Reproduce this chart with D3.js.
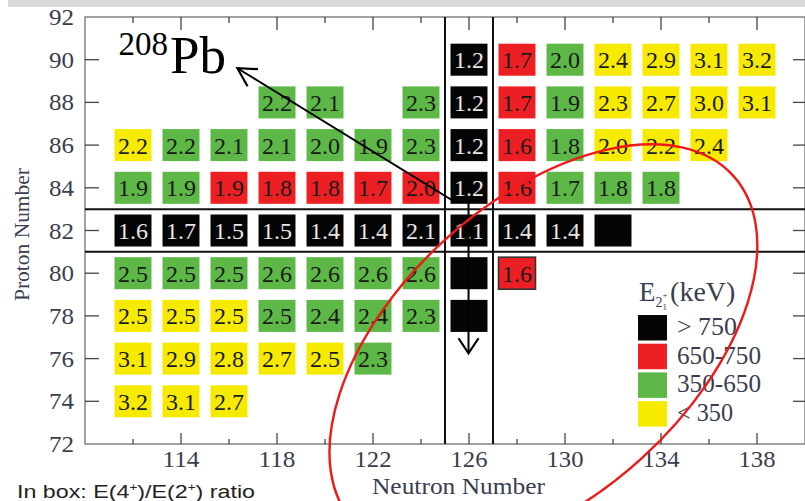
<!DOCTYPE html>
<html><head><meta charset="utf-8">
<script src="https://cdn.jsdelivr.net/npm/d3@7"></script>
<style>body{margin:0;background:#fff}svg{display:block}</style>
</head><body>
<svg id="c" width="805" height="501"></svg>
<script>
// ---------- data ----------
const xDomain = [110, 140];
const yDomain = [72, 92];
const xMajorTicks = [114, 118, 122, 126, 130, 134, 138];
const xMinorTicks = [112, 116, 120, 124, 128, 132, 136];
const yTicks = [72, 74, 76, 78, 80, 82, 84, 86, 88, 90, 92];
const magicN = [125, 127];
const magicZ = [81, 83];

// each row: [neutron number, E(4+)/E(2+) ratio (null = no value), E(2+) band]
const row90 = [[126,1.2,"k"],[128,1.7,"r"],[130,2.0,"g"],[132,2.4,"y"],[134,2.9,"y"],[136,3.1,"y"],[138,3.2,"y"]];
const row88 = [[118,2.2,"g"],[120,2.1,"g"],[124,2.3,"g"],[126,1.2,"k"],[128,1.7,"r"],[130,1.9,"g"],[132,2.3,"y"],[134,2.7,"y"],[136,3.0,"y"],[138,3.1,"y"]];
const row86 = [[112,2.2,"y"],[114,2.2,"g"],[116,2.1,"g"],[118,2.1,"g"],[120,2.0,"g"],[122,1.9,"g"],[124,2.3,"g"],[126,1.2,"k"],[128,1.6,"r"],[130,1.8,"g"],[132,2.0,"y"],[134,2.2,"y"],[136,2.4,"y"]];
const row84 = [[112,1.9,"g"],[114,1.9,"g"],[116,1.9,"r"],[118,1.8,"r"],[120,1.8,"r"],[122,1.7,"r"],[124,2.0,"r"],[126,1.2,"k"],[128,1.6,"r"],[130,1.7,"g"],[132,1.8,"g"],[134,1.8,"g"]];
const row82 = [[112,1.6,"k"],[114,1.7,"k"],[116,1.5,"k"],[118,1.5,"k"],[120,1.4,"k"],[122,1.4,"k"],[124,2.1,"k"],[126,1.1,"k"],[128,1.4,"k"],[130,1.4,"k"],[132,null,"k"]];
const row80 = [[112,2.5,"g"],[114,2.5,"g"],[116,2.5,"g"],[118,2.6,"g"],[120,2.6,"g"],[122,2.6,"g"],[124,2.6,"g"],[126,null,"k"],[128,1.6,"r"]];
const row78 = [[112,2.5,"y"],[114,2.5,"y"],[116,2.5,"y"],[118,2.5,"g"],[120,2.4,"g"],[122,2.4,"g"],[124,2.3,"g"],[126,null,"k"]];
const row76 = [[112,3.1,"y"],[114,2.9,"y"],[116,2.8,"y"],[118,2.7,"y"],[120,2.5,"y"],[122,2.3,"g"]];
const row74 = [[112,3.2,"y"],[114,3.1,"y"],[116,2.7,"y"]];
const protonRows = [90, 88, 86, 84, 82, 80, 78, 76, 74];
const rowData = [row90, row88, row86, row84, row82, row80, row78, row76, row74];
const outlinedCells = [[128, 80]];

const bandKeys = ["k", "r", "g", "y"];
const bandLabels = ["> 750", "650-750", "350-650", "< 350"];
const bandColors = ["#050505", "#ec1f24", "#5db847", "#f6eb00"];

// annotation anchors in (N, Z) data units
const pbArrowPath = [[116.35, 89.6], [125.42, 83.33], [125.98, 83.33]];
const pbDownPath = [[125.98, 83.33], [125.98, 76.25]];
const pbLabelPos = [111.4, 89.4];
const ellipseCenter = [129.1, 76.45];

// ---------- drawing ----------
const svg = d3.select("#c");
const x = d3.scaleLinear().domain(xDomain).range([85, 805]);
const y = d3.scaleLinear().domain(yDomain).range([444, 17]);
const color = d3.scaleOrdinal().domain(bandKeys).range(bandColors);
const fmt = d3.format(".1f");
const serif = "Liberation Serif, Times New Roman, serif";
const labelCol = "#3a3d4f";

// top grey band
svg.append("rect").attr("x", 8).attr("y", 0).attr("width", 797).attr("height", 7).attr("fill", "#d9d9d9");

// cells
const cells = [];
protonRows.forEach((z, i) => rowData[i].forEach(d => cells.push({N: d[0], Z: z, r: d[1], b: d[2]})));
const cw = (x(2) - x(0)) * 0.77, ch = (y(0) - y(2)) * 0.75;
const isOutlined = d => outlinedCells.some(o => o[0] === d.N && o[1] === d.Z);

const g = svg.append("g");
g.selectAll("rect.cell").data(cells).join("rect").attr("class", "cell")
  .attr("x", d => x(d.N) - cw / 2).attr("y", d => y(d.Z) - ch / 2)
  .attr("width", cw).attr("height", ch)
  .attr("fill", d => color(d.b))
  .attr("stroke", d => isOutlined(d) ? "#333" : "none")
  .attr("stroke-width", 1.6);
g.selectAll("text.cl").data(cells.filter(d => d.r !== null)).join("text").attr("class", "cl")
  .attr("x", d => x(d.N)).attr("y", d => y(d.Z) + 8.5)
  .attr("text-anchor", "middle").style("font-family", serif).style("font-size", "24px")
  .attr("fill", d => d.b === "k" ? "#e6e6e6" : "#1a1a1a")
  .text(d => fmt(d.r));

// frame
svg.append("rect").attr("x", x(xDomain[0])).attr("y", y(yDomain[1]))
  .attr("width", x(xDomain[1]) - x(xDomain[0])).attr("height", y(yDomain[0]) - y(yDomain[1]))
  .attr("stroke", "#8a8a8a").attr("stroke-width", 1.6).attr("fill", "none");

// ticks
const tk = svg.append("g").attr("stroke", "#444").attr("stroke-width", 1.3);
xMajorTicks.forEach(t => {
  tk.append("line").attr("x1", x(t)).attr("x2", x(t)).attr("y1", y(72)).attr("y2", y(72) - 11);
  tk.append("line").attr("x1", x(t)).attr("x2", x(t)).attr("y1", y(92)).attr("y2", y(92) + 13);
});
xMinorTicks.forEach(t => {
  tk.append("line").attr("x1", x(t)).attr("x2", x(t)).attr("y1", y(72)).attr("y2", y(72) - 5);
  tk.append("line").attr("x1", x(t)).attr("x2", x(t)).attr("y1", y(92)).attr("y2", y(92) + 6);
});
yTicks.slice(1, -1).forEach(t => {
  tk.append("line").attr("x1", x(110)).attr("x2", x(110) + 14).attr("y1", y(t)).attr("y2", y(t));
  tk.append("line").attr("x1", x(140)).attr("x2", x(140) - 12).attr("y1", y(t)).attr("y2", y(t));
});

// tick labels
const lab = svg.append("g").style("font-family", serif).style("font-size", "23px").attr("fill", labelCol);
lab.selectAll("text.xl").data(xMajorTicks).join("text").attr("class", "xl")
  .attr("x", d => x(d)).attr("y", 467).attr("text-anchor", "middle")
  .attr("textLength", 37).attr("lengthAdjust", "spacingAndGlyphs").text(d => d);
lab.selectAll("text.yl").data(yTicks).join("text").attr("class", "yl")
  .attr("x", 74).attr("y", d => y(d) + 8).attr("text-anchor", "end")
  .attr("textLength", 25).attr("lengthAdjust", "spacingAndGlyphs").text(d => d);

// axis titles
svg.append("text").attr("x", 372).attr("y", 494)
  .style("font-family", serif).style("font-size", "23px").attr("fill", labelCol)
  .attr("textLength", 173).attr("lengthAdjust", "spacingAndGlyphs").text("Neutron Number");
svg.append("text").attr("transform", `translate(29,301) rotate(-90)`)
  .style("font-family", serif).style("font-size", "21px").attr("fill", labelCol)
  .attr("textLength", 133).attr("lengthAdjust", "spacingAndGlyphs").text("Proton Number");

// magic number lines
const mg = svg.append("g").attr("stroke", "#111").attr("stroke-width", 2);
magicN.forEach(n => mg.append("line").attr("x1", x(n)).attr("x2", x(n)).attr("y1", y(72)).attr("y2", y(92)));
magicZ.forEach(z => mg.append("line").attr("x1", x(110)).attr("x2", x(140)).attr("y1", y(z)).attr("y2", y(z)));

// arrows
const defs = svg.append("defs");
defs.append("marker").attr("id", "chev").attr("viewBox", "-22 -12 24 24").attr("refX", 0).attr("refY", 0)
  .attr("markerWidth", 24).attr("markerHeight", 24).attr("markerUnits", "userSpaceOnUse").attr("orient", "auto-start-reverse")
  .append("path").attr("d", "M-18,-10 L0,0 L-18,10").attr("fill", "none").attr("stroke", "#000").attr("stroke-width", 2.2);
defs.append("marker").attr("id", "chev2").attr("viewBox", "-18 -12 20 24").attr("refX", 0).attr("refY", 0)
  .attr("markerWidth", 20).attr("markerHeight", 24).attr("markerUnits", "userSpaceOnUse").attr("orient", "auto")
  .append("path").attr("d", "M-15,-10 L0,0 L-15,10").attr("fill", "none").attr("stroke", "#000").attr("stroke-width", 2.2);
const line = d3.line().x(d => x(d[0])).y(d => y(d[1]));
svg.append("path").attr("d", line(pbArrowPath)).attr("fill", "none").attr("stroke", "#000").attr("stroke-width", 2)
  .attr("marker-start", "url(#chev)");
svg.append("path").attr("d", line(pbDownPath)).attr("fill", "none").attr("stroke", "#000").attr("stroke-width", 2)
  .attr("marker-end", "url(#chev2)");

// 208Pb label
const pb = svg.append("text").attr("x", x(pbLabelPos[0])).attr("y", y(pbLabelPos[1]))
  .style("font-family", serif).attr("fill", "#000");
pb.append("tspan").style("font-size", "33px").attr("dy", -18).text("208");
pb.append("tspan").style("font-size", "53px").attr("dy", 18).attr("dx", 2).text("Pb");

// legend
const lg = svg.append("g").style("font-family", serif).attr("fill", labelCol);
const lt = lg.append("text").attr("x", 639).attr("y", 301).style("font-size", "27px");
lt.append("tspan").text("E");
lt.append("tspan").style("font-size", "14px").attr("dy", 6).text("2");
lt.append("tspan").style("font-size", "9px").attr("dy", -9).text("+");
lt.append("tspan").style("font-size", "9px").attr("dx", -5).attr("dy", 12).text("1");
lt.append("tspan").style("font-size", "28px").attr("dy", -9).attr("dx", 3).text("(keV)");
const labW = [60, 84, 84, 56];
bandKeys.forEach((k, i) => {
  lg.append("rect").attr("x", 638).attr("y", 315 + i * 28.7).attr("width", 29).attr("height", 25.5).attr("fill", color(k));
  lg.append("text").attr("x", 677).attr("y", 315 + i * 28.7 + 20).style("font-size", "25px")
    .attr("textLength", labW[i]).attr("lengthAdjust", "spacingAndGlyphs").text(bandLabels[i]);
});

// red ellipse
svg.append("ellipse").attr("cx", 0).attr("cy", 0).attr("rx", 257).attr("ry", 147)
  .attr("transform", `translate(${x(ellipseCenter[0])},${y(ellipseCenter[1])}) rotate(-42.5)`)
  .attr("fill", "none").attr("stroke", "#f01818").attr("stroke-width", 2.4);

// bottom note
const note = svg.append("text").attr("x", 17).attr("y", 498)
  .style("font-family", "Liberation Sans, Arial, sans-serif").style("font-size", "19px").attr("fill", "#222")
  .attr("textLength", 238).attr("lengthAdjust", "spacingAndGlyphs");
note.append("tspan").text("In box: E(4");
note.append("tspan").style("font-size", "11px").attr("dy", -7).text("+");
note.append("tspan").attr("dy", 7).text(")/E(2");
note.append("tspan").style("font-size", "11px").attr("dy", -7).text("+");
note.append("tspan").attr("dy", 7).text(") ratio");
</script>
</body></html>
